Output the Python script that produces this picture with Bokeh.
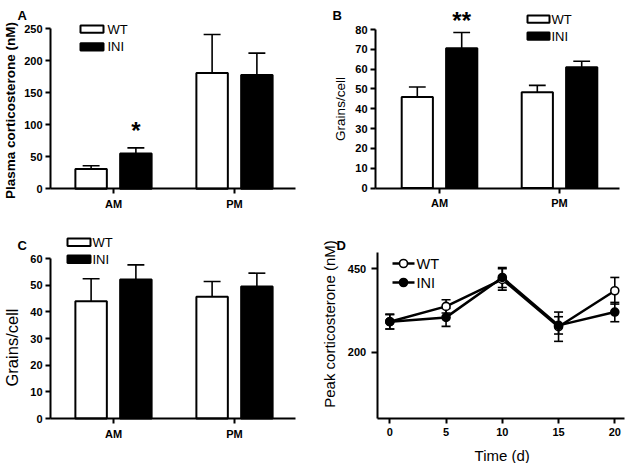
from bokeh.plotting import figure
from bokeh.layouts import gridplot
from bokeh.models import FixedTicker, Label
from bokeh.embed import file_html
from bokeh.resources import INLINE

FONT = "Liberation Sans"

# ---------------- data ----------------
groups = ["AM", "PM"]
group_pos = [1, 2]

a_wt = [31, 181]
a_wt_err = [5, 60]
a_ini = [55, 178]
a_ini_err = [9, 34]

b_wt = [46, 48.3]
b_wt_err = [5, 3.5]
b_ini = [70.5, 61]
b_ini_err = [8, 3]

c_wt = [44, 45.7]
c_wt_err = [8.4, 5.7]
c_ini = [52.1, 49.5]
c_ini_err = [5.5, 5]

d_time = [0, 5, 10, 15, 20]
d_wt = [291, 337, 418, 276, 384]
d_wt_err = [22, 20, 32, 44, 40]
d_ini = [291, 304, 424, 280, 320]
d_ini_err = [22, 27, 30, 26, 29]

a_ticks = [0, 50, 100, 150, 200, 250]
b_ticks = [0, 10, 20, 30, 40, 50, 60, 70, 80]
c_ticks = [0, 10, 20, 30, 40, 50, 60]
d_xticks = [0, 5, 10, 15, 20]
d_yticks = [200, 450]

series_names = ["WT", "INI"]

# ---------------- layout helpers ----------------
W = 314
SX = 1.0


class Frame:
    """Maps layout pixels (panel pixels from top-left) to data values."""

    def __init__(self, H, sy, xa, xb, pxa, pxb, ya, yb, pya, pyb):
        self.sy = sy
        pxa, pxb = pxa * SX, pxb * SX
        pya, pyb = pya * sy, pyb * sy
        self.kx = (pxb - pxa) / (xb - xa)
        self.x0 = xa - pxa / self.kx
        self.x1 = self.x0 + W / self.kx
        self.ky = (pya - pyb) / (yb - ya)
        self.ytop = yb + pyb / self.ky
        self.ybot = self.ytop - H / self.ky

    def X(self, px):
        return self.x0 + px * SX / self.kx

    def Y(self, py):
        return self.ytop - py * self.sy / self.ky


def make_fig(H, fr):
    p = figure(width=W, height=H, x_range=(fr.x0, fr.x1), y_range=(fr.ybot, fr.ytop),
               output_backend="svg", toolbar_location=None, min_border=0)
    p.title.visible = False
    p.xgrid.visible = False
    p.ygrid.visible = False
    p.outline_line_color = None
    p.background_fill_color = "white"
    p.border_fill_color = "white"
    for ax in (p.xaxis[0], p.yaxis[0]):
        ax.axis_line_width = 2
        ax.axis_line_color = "black"
        ax.major_tick_line_width = 2
        ax.major_tick_line_color = "black"
        ax.major_tick_in = 0
        ax.major_tick_out = 5
        ax.minor_tick_line_color = None
        ax.major_label_text_font = FONT
        ax.major_label_text_font_style = "bold"
        ax.major_label_text_font_size = "11px"
        ax.major_label_text_color = "black"
    return p


def text(p, txt, x, y, size, bold=False, align="left", baseline="alphabetic", angle=0):
    p.add_layout(Label(x=x, y=y, text=txt, text_font=FONT,
                       text_font_style="bold" if bold else "normal",
                       text_font_size=size, text_align=align, text_baseline=baseline,
                       angle=angle, angle_units="deg", text_color="black"))


def bar_panel(H, fr, x_lo, x_hi, ymax, yticks, wt, wt_err, ini, ini_err):
    p = make_fig(H, fr)
    off, w, cap = 0.185, 0.26, 0.07
    xw = [g - off for g in group_pos]
    xi = [g + off for g in group_pos]
    for xs, vals, errs in ((xw, wt, wt_err), (xi, ini, ini_err)):
        tops = [v + e for v, e in zip(vals, errs)]
        p.segment(x0=xs, y0=vals, x1=xs, y1=tops, line_color="black", line_width=1.6)
        p.segment(x0=[x - cap for x in xs], y0=tops, x1=[x + cap for x in xs], y1=tops,
                  line_color="black", line_width=1.6)
    p.vbar(x=xw, top=wt, bottom=0, width=w, fill_color="white",
           line_color="black", line_width=2)
    p.vbar(x=xi, top=ini, bottom=0, width=w, fill_color="black",
           line_color="black", line_width=2)
    p.xaxis.fixed_location = 0
    p.xaxis.bounds = (x_lo, x_hi)
    p.xaxis.ticker = FixedTicker(ticks=group_pos)
    p.xaxis.major_label_overrides = {g: n for g, n in zip(group_pos, groups)}
    p.xaxis.major_label_standoff = 4
    p.yaxis.fixed_location = x_lo
    p.yaxis.bounds = (0, ymax)
    p.yaxis.ticker = FixedTicker(ticks=yticks)
    p.yaxis.major_label_standoff = 3
    return p, xi


def box_legend(p, fr, left, right, tops, h, tx, size):
    fills = ["white", "black"]
    for name, top, fill in zip(series_names, tops, fills):
        p.quad(left=[fr.X(left)], right=[fr.X(right)], top=[fr.Y(top)],
               bottom=[fr.Y(top + h)], fill_color=fill, line_color="black", line_width=2)
        text(p, name, fr.X(tx), fr.Y(top + h / 2), size, baseline="middle")


# ---------------- Panel A ----------------
HA = 230
fa = Frame(HA, 1.0, 1, 2, 113, 234, 0, 250, 188.3, 28.3)
pa, xia = bar_panel(HA, fa, 0.48, 2.5, 250, a_ticks, a_wt, a_wt_err, a_ini, a_ini_err)
text(pa, "Plasma corticosterone (nM)", fa.X(10), fa.Y(110), "13.5px", bold=True,
     align="center", baseline="middle", angle=90)
text(pa, "A", fa.X(17), fa.Y(15), "13px", bold=True)
text(pa, "*", xia[0], fa.Y(130), "24px", bold=True, align="center")
box_legend(pa, fa, 80, 103, [25, 42.7], 7.3, 107, "13px")

# ---------------- Panel B ----------------
HB = 230
fb = Frame(HB, 1.0, 1, 2, 125, 245, 0, 80, 187.6, 29)
pb, xib = bar_panel(HB, fb, 0.467, 2.5, 80, b_ticks, b_wt, b_wt_err, b_ini, b_ini_err)
text(pb, "Grains/cell", fb.X(26), fb.Y(108.5), "13.5px", align="center",
     baseline="middle", angle=90)
text(pb, "B", fb.X(18), fb.Y(15), "13px", bold=True)
text(pb, "**", xib[0], fb.Y(20), "24px", bold=True, align="center")
box_legend(pb, fb, 213, 235, [15, 32], 7.2, 237, "13px")

# ---------------- Panel C ----------------
HC = 233
fc = Frame(HC, 1.0, 1, 2, 113, 234, 0, 60, 188, 28)
pc, _ = bar_panel(HC, fc, 0.48, 2.5, 60, c_ticks, c_wt, c_wt_err, c_ini, c_ini_err)
text(pc, "Grains/cell", fc.X(11), fc.Y(117), "16.5px", align="center",
     baseline="middle", angle=90)
text(pc, "C", fc.X(17), fc.Y(15), "13px", bold=True)
box_legend(pc, fc, 67, 90, [8, 25], 7.5, 92, "13px")

# ---------------- Panel D ----------------
HD = 233
fd = Frame(HD, 1.0, 0, 20, 75.3, 300.3, 200, 450, 121.5, 38.3)
pd = make_fig(HD, fd)
capd = 0.4
for name, vals, errs in (("WT", d_wt, d_wt_err), ("INI", d_ini, d_ini_err)):
    lo = [v - e for v, e in zip(vals, errs)]
    hi = [v + e for v, e in zip(vals, errs)]
    pd.segment(x0=d_time, y0=lo, x1=d_time, y1=hi, line_color="black", line_width=1.6)
    pd.segment(x0=[t - capd for t in d_time], y0=lo, x1=[t + capd for t in d_time], y1=lo,
               line_color="black", line_width=1.6)
    pd.segment(x0=[t - capd for t in d_time], y0=hi, x1=[t + capd for t in d_time], y1=hi,
               line_color="black", line_width=1.6)
    pd.line(d_time, vals, line_color="black", line_width=2.5)
pd.scatter(d_time, d_wt, marker="circle", size=8, fill_color="white",
           line_color="black", line_width=1.6)
pd.scatter(d_time, d_ini, marker="circle", size=8, fill_color="black",
           line_color="black", line_width=1.6)
pd.xaxis.fixed_location = 0
pd.xaxis.bounds = (-1.12, 20.9)
pd.xaxis.ticker = FixedTicker(ticks=d_xticks)
pd.xaxis.major_label_standoff = 4
pd.yaxis.fixed_location = -1.12
pd.yaxis.bounds = (0, 500)
pd.yaxis.ticker = FixedTicker(ticks=d_yticks)
pd.yaxis.major_tick_out = 6
pd.yaxis.major_label_standoff = 5
text(pd, "Peak corticosterone (nM)", fd.X(15), fd.Y(93.5), "15px", align="center",
     baseline="middle", angle=90)
text(pd, "Time (d)", fd.X(187.7), fd.Y(225), "15px", align="center", baseline="middle")
text(pd, "D", fd.X(22), fd.Y(15), "13px", bold=True)
# legend for D
for name, yc, fill in zip(series_names, [33, 52], ["white", "black"]):
    pd.line([fd.X(78), fd.X(100)], [fd.Y(yc), fd.Y(yc)], line_color="black", line_width=2.5)
    pd.scatter([fd.X(89)], [fd.Y(yc)], marker="circle", size=8, fill_color=fill,
               line_color="black", line_width=1.6)
    text(pd, name, fd.X(102), fd.Y(yc), "14.5px", baseline="middle")

grid = gridplot([[pa, pb], [pc, pd]], toolbar_location=None)
open("out.html", "w").write(file_html(grid, INLINE))
